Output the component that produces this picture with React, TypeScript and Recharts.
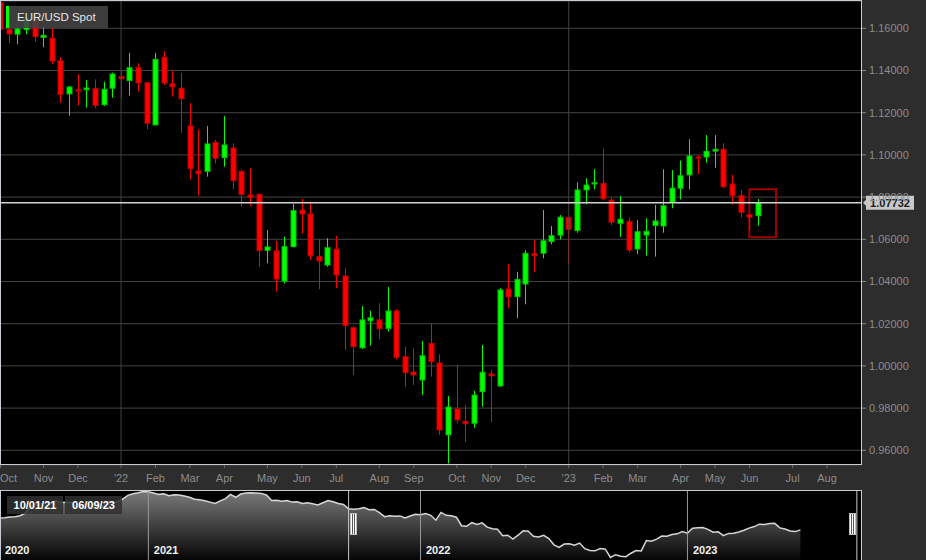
import React from 'react';
import {
  ComposedChart,
  Bar,
  XAxis,
  YAxis,
  CartesianGrid,
  ReferenceLine,
  ReferenceArea,
  AreaChart,
  Area,
} from 'recharts';

// ---------- weekly EUR/USD candles (index 0 = week ending 10/01/21) ----------
const weekIndex = Array.from({ length: 89 }, (_, k) => k);
const opens = [
  1.1722, 1.1595, 1.1572, 1.1594, 1.1646, 1.1557, 1.1553, 1.1446, 1.1289, 1.1309,
  1.1309, 1.1314, 1.1238, 1.1316, 1.1371, 1.1352, 1.1413, 1.1342, 1.1142, 1.1463,
  1.1337, 1.1316, 1.1137, 1.0924, 1.0922, 1.1060, 1.0987, 1.1033, 1.0922, 1.0810,
  1.0813, 1.0548, 1.0545, 1.0402, 1.0565, 1.0739, 1.0720, 1.0518, 1.0478, 1.0553,
  1.0426, 1.0181, 1.0086, 1.0214, 1.0218, 1.0178, 1.0260, 1.0044, 0.9971, 0.9933,
  1.0107, 1.0014, 0.9673, 0.9796, 0.9737, 0.9728, 0.9878, 0.9962, 0.9905, 1.0364,
  1.0328, 1.0388, 1.0532, 1.0534, 1.0589, 1.0620, 1.0704, 1.0641, 1.0834, 1.0862,
  1.0865, 1.0786, 1.0676, 1.0685, 1.0554, 1.0620, 1.0666, 1.0663, 1.0775, 1.0842,
  1.0905, 1.0990, 1.0990, 1.1018, 1.1027, 1.0862, 1.0807, 1.0717, 1.0712,
];
const highs = [
  1.1755, 1.1640, 1.1620, 1.1669, 1.1692, 1.1611, 1.1600, 1.1463, 1.1325, 1.1383,
  1.1355, 1.1358, 1.1347, 1.1390, 1.1402, 1.1484, 1.1434, 1.1345, 1.1484, 1.1492,
  1.1398, 1.1387, 1.1245, 1.1121, 1.1137, 1.1071, 1.1184, 1.1055, 1.0932, 1.0937,
  1.0818, 1.0644, 1.0593, 1.0612, 1.0767, 1.0791, 1.0773, 1.0600, 1.0606, 1.0616,
  1.0463, 1.0189, 1.0284, 1.0262, 1.0297, 1.0374, 1.0268, 1.0091, 1.0083, 1.0118,
  1.0202, 1.0055, 0.9857, 1.0004, 0.9815, 0.9882, 1.0099, 0.9981, 1.0368, 1.0483,
  1.0446, 1.0549, 1.0597, 1.0739, 1.0663, 1.0715, 1.0707, 1.0870, 1.0889, 1.0932,
  1.1031, 1.0797, 1.0805, 1.0704, 1.0691, 1.0700, 1.0763, 1.0932, 1.0928, 1.0973,
  1.1074, 1.0999, 1.1094, 1.1094, 1.1055, 1.0905, 1.0834, 1.0722, 1.0791,
];
const lows = [
  1.1563, 1.1530, 1.1524, 1.1572, 1.1535, 1.1510, 1.1431, 1.1247, 1.1186, 1.1235,
  1.1224, 1.1221, 1.1232, 1.1271, 1.1271, 1.1281, 1.1300, 1.1121, 1.1140, 1.1331,
  1.1276, 1.1105, 1.0884, 1.0807, 1.0897, 1.0960, 1.0944, 1.0837, 1.0757, 1.0759,
  1.0470, 1.0486, 1.0352, 1.0391, 1.0562, 1.0628, 1.0502, 1.0363, 1.0470, 1.0368,
  1.0075, 0.9957, 1.0080, 1.0096, 1.0126, 1.0162, 1.0031, 0.9901, 0.9910, 0.9862,
  0.9949, 0.9673, 0.9538, 0.9728, 0.9638, 0.9707, 0.9807, 0.9733, 0.9901, 1.0273,
  1.0226, 1.0292, 1.0444, 1.0510, 1.0576, 1.0600, 1.0483, 1.0631, 1.0766, 1.0837,
  1.0786, 1.0668, 1.0612, 1.0538, 1.0530, 1.0522, 1.0518, 1.0631, 1.0747, 1.0790,
  1.0837, 1.0909, 1.0963, 1.0939, 1.0842, 1.0763, 1.0704, 1.0644, 1.0664,
];
const closes = [
  1.1596, 1.1573, 1.1597, 1.1646, 1.1560, 1.1567, 1.1445, 1.1287, 1.1322, 1.1303,
  1.1317, 1.1235, 1.1311, 1.1383, 1.1361, 1.1413, 1.1341, 1.1150, 1.1453, 1.1341,
  1.1323, 1.1266, 1.0935, 1.0911, 1.1052, 1.0984, 1.1047, 1.0878, 1.0813, 1.0799,
  1.0546, 1.0564, 1.0412, 1.0565, 1.0736, 1.0720, 1.0522, 1.0497, 1.0560, 1.0431,
  1.0191, 1.0091, 1.0218, 1.0228, 1.0176, 1.0260, 1.0041, 0.9968, 0.9957, 1.0048,
  1.0020, 0.9696, 0.9805, 0.9744, 0.9726, 0.9862, 0.9970, 0.9953, 1.0360, 1.0328,
  1.0410, 1.0534, 1.0524, 1.0593, 1.0617, 1.0704, 1.0647, 1.0834, 1.0857, 1.0868,
  1.0792, 1.0681, 1.0695, 1.0549, 1.0636, 1.0638, 1.0687, 1.0759, 1.0842, 1.0901,
  1.0995, 1.0985, 1.1017, 1.1027, 1.0849, 1.0807, 1.0728, 1.0705, 1.07732,
];

// ---------- axis ticks ----------
const monthTickIndex = [0, 5, 9, 14, 18, 22, 26, 31, 35, 39, 44, 48, 53, 57, 61, 66, 70, 74, 79, 83, 87, 92, 96];
const monthTickLabels = ['Oct', 'Nov', 'Dec', "'22", 'Feb', 'Mar', 'Apr', 'May', 'Jun', 'Jul', 'Aug', 'Sep', 'Oct', 'Nov', 'Dec', "'23", 'Feb', 'Mar', 'Apr', 'May', 'Jun', 'Jul', 'Aug'];
const priceTicks = [0.96, 0.98, 1.0, 1.02, 1.04, 1.06, 1.08, 1.1, 1.12, 1.14, 1.16];
const yearGridIndex = [14, 66];
const lastPrice = 1.07732;
const highlightWeeks = [86.97, 90.07];
const highlightPrices = [1.061, 1.0837];

// ---------- navigator (weekly closes before the selected range) ----------
const navHistoryIndex = Array.from({ length: 68 }, (_, k) => k - 68);
const navHistoryClose = [
  1.1235, 1.1248, 1.1273, 1.1286, 1.1324, 1.1428, 1.1656, 1.1778, 1.1787, 1.1842,
  1.1795, 1.1904, 1.1838, 1.1845, 1.1838, 1.1632, 1.1715, 1.1826, 1.1718, 1.186,
  1.1648, 1.1875, 1.1834, 1.1857, 1.1975, 1.2119, 1.218, 1.222, 1.2268, 1.2257,
  1.2207, 1.2156, 1.2182, 1.2106, 1.2144, 1.2131, 1.2093, 1.2043, 1.1967, 1.1942,
  1.1904, 1.1854, 1.1803, 1.1904, 1.1992, 1.2156, 1.2043, 1.2169, 1.2207, 1.222,
  1.2207, 1.2194, 1.2131, 1.1917, 1.193, 1.1891, 1.1917, 1.1854, 1.1866, 1.1803,
  1.1828, 1.1791, 1.174, 1.1828, 1.1917, 1.1866, 1.1803, 1.1765,
];
const navYearIndex = [-68, -39, 14, 66];
const navYearLabels = ['2020', '2021', '2022', '2023'];
const navSelection = [0, 99];
const navStartLabel = '10/01/21';
const navEndLabel = '06/09/23';

const candles = weekIndex.map((i, k) => ({
  i,
  open: opens[k],
  high: highs[k],
  low: lows[k],
  close: closes[k],
  range: [lows[k], highs[k]],
}));

const navData = [
  ...navHistoryIndex.map((i, k) => ({ i, close: navHistoryClose[k] })),
  ...weekIndex.map((i, k) => ({ i, close: closes[k] })),
];

const FONT = 'Arial, "Liberation Sans", sans-serif';
const AXIS_TEXT = '#8c8c8c';
const FRAME = '#c8ccd4';

function Candle(props: any) {
  const { x, y, width, height, payload } = props;
  if (x == null || y == null || payload == null) return null;
  const top = Math.min(y, y + height);
  const bottom = Math.max(y, y + height);
  const { open, close, high, low } = payload;
  const span = high - low || 1;
  const py = (v: number) => top + ((high - v) / span) * (bottom - top);
  const up = close >= open;
  const fill = up ? '#00ff00' : '#ff0000';
  const stroke = up ? '#00c000' : '#c00000';
  const cx = Math.round(x + width / 2) + 0.5;
  const bTop = py(Math.max(open, close));
  const bBot = py(Math.min(open, close));
  const bh = Math.max(bBot - bTop, 1);
  return (
    <g>
      <line x1={cx} x2={cx} y1={top} y2={bottom} stroke={fill} strokeWidth={1} />
      <rect x={cx - 2.5} y={bTop} width={5} height={bh} fill={fill} stroke={stroke} strokeWidth={1} />
    </g>
  );
}

function MonthTick(props: any) {
  const { x, y, payload } = props;
  const idx = monthTickIndex.indexOf(payload.value);
  const label = idx >= 0 ? monthTickLabels[idx] : '';
  const atStart = x < 10;
  return (
    <text
      x={atStart ? 0 : x}
      y={y + 12}
      textAnchor={atStart ? 'start' : 'middle'}
      fill={AXIS_TEXT}
      fontSize={11}
      fontFamily={FONT}
    >
      {label}
    </text>
  );
}

function PriceTag(props: any) {
  const vb = props.viewBox || {};
  const x0 = (vb.x || 0) + (vb.width || 0);
  const yy = vb.y || 0;
  return (
    <g>
      <path d={`M ${x0 + 1} ${yy} L ${x0 + 5} ${yy - 4} L ${x0 + 5} ${yy + 4} Z`} fill="#c8c8c8" />
      <rect x={x0 + 4} y={yy - 7} width={48} height={14} fill="#c8c8c8" />
      <text x={x0 + 28} y={yy + 4} textAnchor="middle" fontSize={11} fontWeight="bold" fill="#1a1a1a" fontFamily={FONT}>
        {lastPrice.toFixed(5)}
      </text>
    </g>
  );
}

function YearLabel(text: string) {
  return (props: any) => {
    const vb = props.viewBox || {};
    return (
      <text x={(vb.x || 0) + 5.5} y={63.5} fontSize={11} fontWeight="bold" fill="#f2f2f2" fontFamily={FONT}>
        {text}
      </text>
    );
  };
}

const dateBox: React.CSSProperties = {
  position: 'absolute',
  top: 496,
  height: 18,
  lineHeight: '18px',
  background: 'rgba(48,48,48,0.85)',
  color: '#ffffff',
  fontFamily: FONT,
  fontSize: 11,
  fontWeight: 'bold',
  textAlign: 'center',
};

const handle: React.CSSProperties = {
  position: 'absolute',
  top: 513,
  width: 5,
  height: 20,
  border: '1px solid #bdbdbd',
  background: 'repeating-linear-gradient(90deg, #ffffff 0px, #ffffff 1px, #5a5a5a 1px, #5a5a5a 2px)',
};

export default function App() {
  return (
    <div style={{ position: 'fixed', left: 0, top: 0, width: 926, height: 560, background: '#2d2d2d', overflow: 'hidden' }}>
      <div style={{ position: 'absolute', left: 0, top: 0 }}>
        <ComposedChart width={926} height={488} data={candles} margin={{ top: 1, right: 0, left: 0, bottom: 0 }}>
          <CartesianGrid vertical={false} stroke="#444444" fill="#000000" />
          <XAxis
            dataKey="i"
            type="number"
            domain={[-0.06, 100.06]}
            ticks={monthTickIndex}
            interval={0}
            height={23}
            tick={<MonthTick />}
            tickLine={{ stroke: '#6a6a6a' }}
            tickSize={3}
            axisLine={false}
            allowDataOverflow
          />
          <YAxis
            orientation="right"
            type="number"
            width={64}
            domain={[0.95303, 1.17294]}
            ticks={priceTicks}
            interval={0}
            tickFormatter={(v: number) => v.toFixed(5)}
            tick={{ fill: AXIS_TEXT, fontSize: 11, fontFamily: FONT }}
            tickLine={{ stroke: '#8c8c8c' }}
            tickSize={4}
            tickMargin={3}
            axisLine={false}
            allowDataOverflow
          />
          {yearGridIndex.map((v) => (
            <ReferenceLine key={v} x={v} stroke="#444444" />
          ))}
          <Bar dataKey="range" barSize={6} isAnimationActive={false} shape={(p: any) => <Candle {...p} />} />
          <ReferenceArea
            x1={highlightWeeks[0]}
            x2={highlightWeeks[1]}
            y1={highlightPrices[0]}
            y2={highlightPrices[1]}
            fill="none"
            fillOpacity={0}
            stroke="#a00000"
            strokeWidth={2}
          />
          <ReferenceLine y={lastPrice} stroke="#d4d4d4" strokeWidth={1.5} label={(p: any) => <PriceTag {...p} />} />
        </ComposedChart>
      </div>

      {/* plot frame */}
      <div style={{ position: 'absolute', left: 0, top: 0, width: 860, height: 463, border: `1px solid ${FRAME}`, pointerEvents: 'none' }} />

      {/* series legend */}
      <div
        style={{
          position: 'absolute',
          left: 6,
          top: 6,
          width: 102,
          height: 22,
          borderLeft: '3px solid #00ff00',
          background: 'rgba(66,66,66,0.9)',
          color: '#e6e6e6',
          fontFamily: FONT,
          fontSize: 11.5,
          lineHeight: '22px',
          paddingLeft: 8,
          boxSizing: 'border-box',
        }}
      >
        EUR/USD Spot
      </div>

      {/* navigator */}
      <div style={{ position: 'absolute', left: 0, top: 490, width: 862, height: 70, background: '#000000' }}>
        <AreaChart width={862} height={70} data={navData} margin={{ top: 0, right: 0, left: 0, bottom: 0 }}>
          <defs>
            <linearGradient id="navFill" x1="0" y1="0" x2="0" y2="1">
              <stop offset="0" stopColor="#7a7a7a" />
              <stop offset="1" stopColor="#050505" />
            </linearGradient>
          </defs>
          <XAxis dataKey="i" type="number" domain={[-67.9, 100]} hide allowDataOverflow />
          <YAxis type="number" domain={[0.9599, 1.2326]} hide allowDataOverflow />
          <Area
            type="linear"
            dataKey="close"
            stroke="#d6d6d6"
            strokeWidth={1.5}
            fill="url(#navFill)"
            fillOpacity={1}
            dot={false}
            activeDot={false}
            isAnimationActive={false}
          />
          {navYearIndex.map((v, k) => (
            <ReferenceLine
              key={v}
              x={v}
              stroke={k === 0 ? 'none' : '#9a9a9a'}
              ifOverflow="visible"
              label={YearLabel(navYearLabels[k])}
            />
          ))}
          {navSelection.map((v) => (
            <ReferenceLine key={`s${v}`} x={v} stroke="#c8c8c8" />
          ))}
        </AreaChart>
        <div style={{ position: 'absolute', left: 0, top: 0, width: 860, height: 69, border: `1px solid ${FRAME}`, borderBottom: 'none', pointerEvents: 'none' }} />
      </div>
      <div style={{ ...dateBox, left: 7, width: 56 }}>{navStartLabel}</div>
      <div style={{ ...dateBox, left: 65, width: 57 }}>{navEndLabel}</div>
      <div style={{ ...handle, left: 350 }} />
      <div style={{ ...handle, left: 849 }} />
    </div>
  );
}
